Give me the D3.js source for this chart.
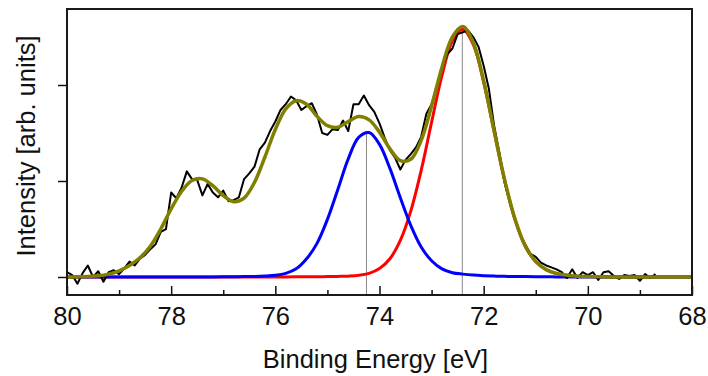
<!DOCTYPE html>
<html>
<head>
<meta charset="utf-8">
<script src="https://cdn.jsdelivr.net/npm/d3@7"></script>
<style>
  html, body { margin: 0; padding: 0; background: #fff; }
  svg { display: block; }
  text { font-family: "Liberation Sans", Arial, sans-serif; fill: #111; }
</style>
</head>
<body>
<svg id="chart" width="708" height="376"></svg>
<script>
// ---- measured spectrum (binding energy in eV, intensity in arb. units) ----
const dataEnergy = [80.0,79.9,79.8,79.7,79.6,79.5,79.4,79.3,79.2,79.1,
  79.0,78.9,78.8,78.7,78.6,78.5,78.4,78.3,78.2,78.1,
  78.0,77.9,77.8,77.7,77.6,77.5,77.4,77.3,77.2,77.1,
  77.0,76.9,76.8,76.7,76.6,76.5,76.4,76.3,76.2,76.1,
  76.0,75.9,75.8,75.7,75.6,75.5,75.4,75.3,75.2,75.1,
  75.0,74.9,74.8,74.7,74.6,74.5,74.4,74.3,74.2,74.1,
  74.0,73.9,73.8,73.7,73.6,73.5,73.4,73.3,73.2,73.1,
  73.0,72.9,72.8,72.7,72.6,72.5,72.4,72.3,72.2,72.1,
  72.0,71.9,71.8,71.7,71.6,71.5,71.4,71.3,71.2,71.1,
  71.0,70.9,70.8,70.7,70.6,70.5,70.4,70.3,70.2,70.1,
  70.0,69.9,69.8,69.7,69.6,69.5,69.4,69.3,69.2,69.1,
  69.0,68.9,68.8,68.7];
const dataIntensity = [0.05,0.02,-0.07,0.04,0.12,0.00,0.06,-0.05,0.05,0.07,
  0.03,0.09,0.16,0.12,0.19,0.23,0.29,0.34,0.47,0.50,
  0.88,0.82,0.93,1.10,1.02,1.01,0.85,0.97,0.88,0.83,
  0.90,0.79,0.80,0.83,1.02,1.08,1.15,1.33,1.40,1.52,
  1.62,1.74,1.80,1.88,1.84,1.74,1.78,1.81,1.69,1.50,
  1.48,1.54,1.53,1.63,1.52,1.80,1.80,1.89,1.79,1.72,
  1.60,1.45,1.32,1.24,1.12,1.22,1.28,1.35,1.46,1.70,
  1.80,1.98,2.17,2.32,2.38,2.53,2.55,2.57,2.50,2.40,
  2.20,1.96,1.58,1.30,0.99,0.78,0.60,0.44,0.34,0.24,
  0.21,0.15,0.12,0.10,0.08,0.05,-0.01,0.08,-0.01,0.05,
  0.02,0.05,-0.03,0.05,0.06,0.01,-0.02,0.02,0.01,0.02,
  -0.04,0.03,-0.01,0.03];

// ---- fitted curves ----
const fitEnergy = [80.0,79.8,79.6,79.4,79.2,79.0,78.8,78.6,78.4,78.2,
  78.0,77.8,77.6,77.4,77.2,77.0,76.8,76.6,76.4,76.2,
  76.0,75.8,75.6,75.4,75.2,75.0,74.8,74.6,74.4,74.2,
  74.0,73.8,73.6,73.4,73.2,73.0,72.8,72.6,72.4,72.2,
  72.0,71.8,71.6,71.4,71.2,71.0,70.8,70.6,70.4,70.2,
  70.0,69.8,69.6,69.4,69.2,69.0,68.8,68.6,68.4,68.2,68.0];
const fitEnvelope = [0,0.002,0.005,0.012,0.03,0.065,0.12,0.20,0.32,0.50,
  0.71,0.891,1.005,1.022,0.951,0.848,0.784,0.822,0.986,1.25,
  1.536,1.751,1.837,1.799,1.674,1.577,1.56,1.619,1.671,1.637,
  1.509,1.336,1.212,1.226,1.423,1.782,2.185,2.502,2.61,2.442,
  2.044,1.526,1.018,0.606,0.322,0.163,0.077,0.036,0.018,0.008,
  0.004,0.002,0.001,0,0,0,0,0,0,0,0];
const fitRed = [0,0,0,0,0,0,0,0,0,0,
  0,0,0,0,0,0,0,0,0,0,
  0.001,0.001,0.002,0.002,0.003,0.004,0.006,0.009,0.017,0.038,
  0.088,0.190,0.381,0.686,1.11,1.612,2.100,2.457,2.58,2.422,
  2.030,1.516,1.011,0.601,0.318,0.16,0.075,0.035,0.018,0.008,
  0.004,0.002,0.001,0,0,0,0,0,0,0,0];
const fitBlue = [0,0,0,0,0,0,0,0,0,0,
  0,0,0,0.001,0.001,0.002,0.003,0.004,0.006,0.010,
  0.018,0.038,0.085,0.19,0.35,0.60,0.912,1.231,1.454,1.505,
  1.381,1.131,0.826,0.538,0.313,0.17,0.085,0.045,0.03,0.02,
  0.014,0.010,0.007,0.005,0.004,0.003,0.002,0.001,0,0,
  0,0,0,0,0,0,0,0,0,0,0];

// peak positions (eV) and heights of the two drawn components
const peakCenters = [74.25, 72.41];
const peakHeights = [1.51, 2.58];

// axis ticks
const xMajorTicks = [80, 78, 76, 74, 72, 70, 68];
const xMinorTicks = [79, 77, 75, 73, 71, 69];
const yTicks = [0, 1, 2];
const xTitle = "Binding Energy [eV]";
const yTitle = "Intensity [arb. units]";

// ---- layout ----
const W = 708, H = 376;
const m = {left: 67, right: 16, top: 9, bottom: 81};
const pw = W - m.left - m.right, ph = H - m.top - m.bottom;

const svg = d3.select("#chart");
const g = svg.append("g").attr("transform", `translate(${m.left},${m.top})`);

const x = d3.scaleLinear().domain([80, 68]).range([0, pw]);
const y = d3.scaleLinear().domain([-0.1875, 2.7917]).range([ph, 0]);

svg.append("defs").append("clipPath").attr("id", "clip")
  .append("rect").attr("width", pw).attr("height", ph);

const plot = g.append("g").attr("clip-path", "url(#clip)");

// gray marker lines at component peaks
plot.selectAll("line.marker").data(peakCenters).join("line")
  .attr("class", "marker")
  .attr("x1", d => x(d)).attr("x2", d => x(d))
  .attr("y1", (d, i) => y(peakHeights[i])).attr("y2", ph)
  .attr("stroke", "#8a8a8a").attr("stroke-width", 1);

const smooth = d3.line().curve(d3.curveCatmullRom.alpha(0.5))
  .x(d => x(d[0])).y(d => y(d[1]));
const raw = d3.line().x(d => x(d[0])).y(d => y(d[1]));

plot.append("path").datum(fitEnergy.map((e, i) => [e, fitRed[i]]))
  .attr("d", smooth).attr("fill", "none").attr("stroke", "#ff0000").attr("stroke-width", 3);
plot.append("path").datum(fitEnergy.map((e, i) => [e, fitBlue[i]]))
  .attr("d", smooth).attr("fill", "none").attr("stroke", "#0000ff").attr("stroke-width", 3);
plot.append("path").datum(dataEnergy.map((e, i) => [e, dataIntensity[i]]))
  .attr("d", raw).attr("fill", "none").attr("stroke", "#000").attr("stroke-width", 2)
  .attr("stroke-linejoin", "round");
plot.append("path").datum(fitEnergy.map((e, i) => [e, fitEnvelope[i]]))
  .attr("d", smooth).attr("fill", "none").attr("stroke", "#808000").attr("stroke-width", 3.5);

// x axis (ticks pointing inward)
const xAxis = g.append("g").attr("transform", `translate(0,${ph})`)
  .call(d3.axisBottom(x).tickValues(xMajorTicks).tickSize(-9).tickFormat(d3.format("d")));
xAxis.select(".domain").remove();
xAxis.selectAll(".tick line").attr("stroke", "#111").attr("stroke-width", 1.5);
xAxis.selectAll(".tick text").attr("dy", null).attr("y", 30)
  .style("font-size", "25.5px").attr("fill", "#111");

const xMinor = g.append("g").attr("transform", `translate(0,${ph})`)
  .call(d3.axisBottom(x).tickValues(xMinorTicks).tickSize(-5).tickFormat(""));
xMinor.select(".domain").remove();
xMinor.selectAll(".tick line").attr("stroke", "#111").attr("stroke-width", 1.5);

// y axis (ticks outward, no labels)
const yAxis = g.append("g")
  .call(d3.axisLeft(y).tickValues(yTicks).tickSize(9).tickFormat(""));
yAxis.select(".domain").remove();
yAxis.selectAll(".tick line").attr("stroke", "#111").attr("stroke-width", 1.5);

// frame
g.append("rect").attr("width", pw).attr("height", ph)
  .attr("fill", "none").attr("stroke", "#1a1a1a").attr("stroke-width", 2);

// titles
svg.append("text").attr("x", m.left + pw / 2 - 4).attr("y", 368)
  .attr("text-anchor", "middle").style("font-size", "25.5px").text(xTitle);
svg.append("text").attr("transform", `translate(35,${m.top + ph / 2 - 6}) rotate(-90)`)
  .attr("text-anchor", "middle").style("font-size", "25.5px").text(yTitle);
</script>
</body>
</html>
